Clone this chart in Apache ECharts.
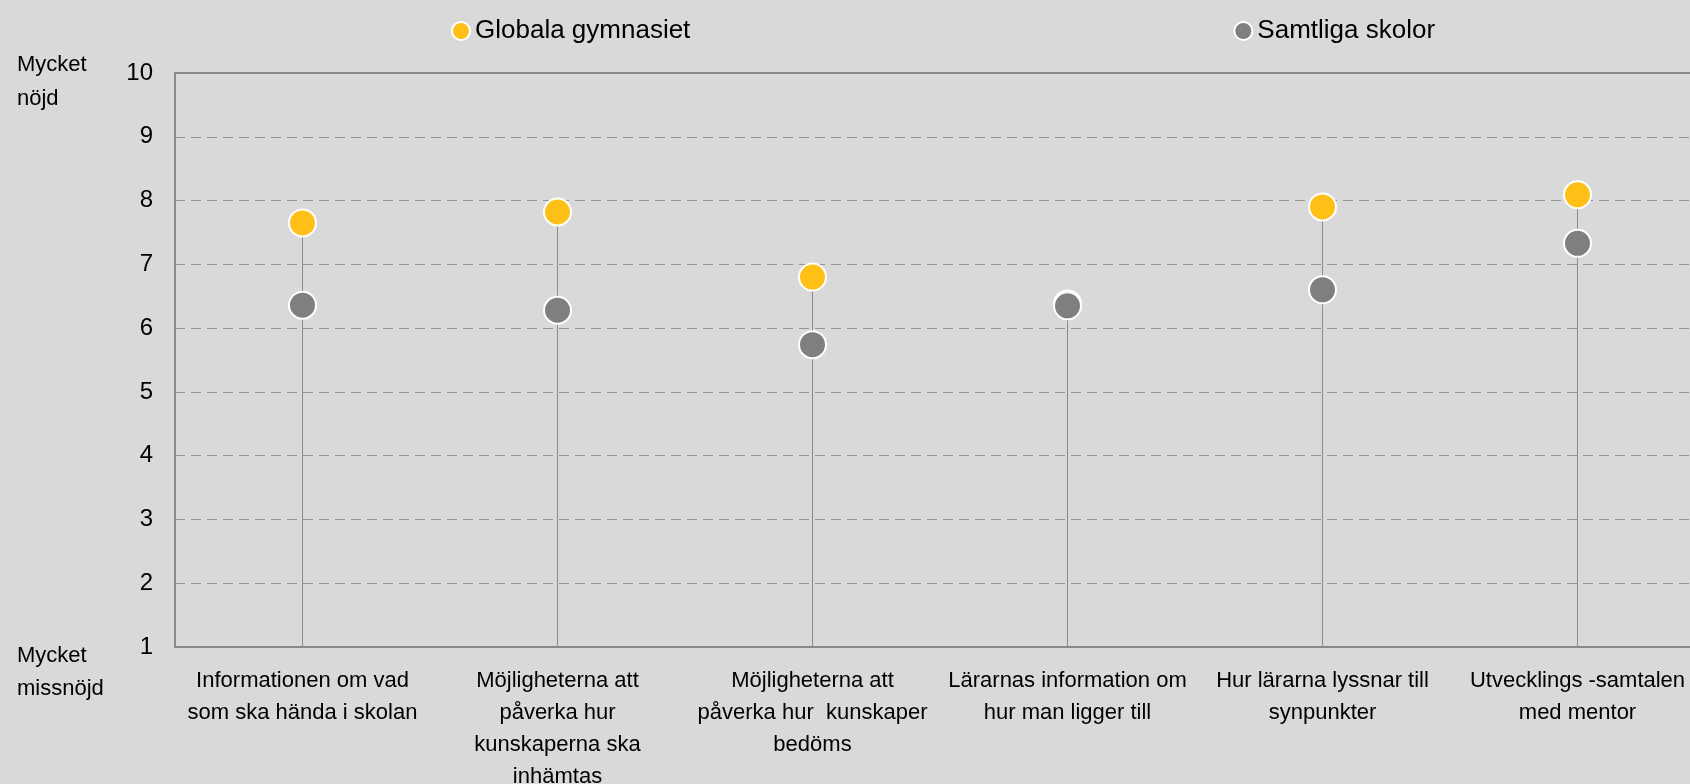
<!DOCTYPE html>
<html>
<head>
<meta charset="utf-8">
<style>
html,body{margin:0;padding:0;background:#D9D9D9;}
#c{width:1690px;height:784px;}
</style>
<script src="https://cdn.jsdelivr.net/npm/echarts@6/dist/echarts.min.js"></script>
</head>
<body>
<div id="c"></div>
<script>
var categories = [
  'Informationen om vad\nsom ska hända i skolan',
  'Möjligheterna att\npåverka hur\nkunskaperna ska\ninhämtas',
  'Möjligheterna att\npåverka hur  kunskaper\nbedöms',
  'Lärarnas information om\nhur man ligger till',
  'Hur lärarna lyssnar till\nsynpunkter',
  'Utvecklings -samtalen\nmed mentor'
];
var globala = [7.65, 7.82, 6.80, 6.38, 7.90, 8.09];
var samtliga = [6.36, 6.28, 5.74, 6.35, 6.60, 7.33];
var yTicks = [1, 2, 3, 4, 5, 6, 7, 8, 9, 10];
var seriesNames = ['Globala gymnasiet', 'Samtliga skolor'];

var stems = globala.map(function (g, i) { return Math.max(g, samtliga[i]); });

var FONT = '"Liberation Sans", Arial, sans-serif';
var chart = echarts.init(document.getElementById('c'));
chart.setOption({
  backgroundColor: '#D9D9D9',
  animation: false,
  textStyle: { fontFamily: FONT, color: '#000' },
  legend: {
    data: seriesNames,
    left: 446,
    top: 13,
    icon: 'circle',
    itemWidth: 18,
    itemHeight: 18,
    itemGap: 543,
    textStyle: { fontSize: 26, color: '#000', fontFamily: FONT },
    selectedMode: false
  },
  grid: { left: 175, right: -15, top: 73, bottom: 137, outerBoundsMode: 'none', containLabel: false },
  xAxis: [{
    type: 'category',
    data: categories,
    axisLine: { show: true, lineStyle: { color: '#8A8A8A', width: 2 } },
    axisTick: { show: false },
    axisLabel: { fontSize: 22, lineHeight: 32, margin: 18, color: '#000', fontFamily: FONT, interval: 0 }
  }, {
    type: 'category',
    position: 'top',
    data: categories,
    axisLine: { show: true, lineStyle: { color: '#8A8A8A', width: 2 } },
    axisTick: { show: false },
    axisLabel: { show: false }
  }],
  yAxis: {
    type: 'value',
    min: yTicks[0],
    max: yTicks[yTicks.length - 1],
    interval: 1,
    axisLine: { show: true, lineStyle: { color: '#8A8A8A', width: 2 } },
    axisTick: { show: false },
    axisLabel: { fontSize: 24, margin: 22, color: '#000', fontFamily: FONT },
    splitLine: { show: true, lineStyle: { color: '#959595', type: [10, 6], width: 1 } }
  },
  graphic: [
    { type: 'text', left: 17, top: 48, style: { text: 'Mycket\nnöjd', fontSize: 22, lineHeight: 34, fill: '#000', font: '22px ' + FONT } },
    { type: 'text', left: 17, top: 639, style: { text: 'Mycket\nmissnöjd', fontSize: 22, lineHeight: 33, fill: '#000', font: '22px ' + FONT } }
  ],
  series: [
    {
      name: 'stem',
      type: 'bar',
      data: stems,
      barWidth: 1,
      itemStyle: { color: '#8A8A8A' },
      silent: true,
      z: 1
    },
    {
      name: seriesNames[0],
      type: 'scatter',
      data: globala,
      symbol: 'circle',
      symbolSize: 27,
      itemStyle: { color: '#FEC016', borderColor: '#FFFFFF', borderWidth: 2, opacity: 1 },
      z: 3
    },
    {
      name: seriesNames[1],
      type: 'scatter',
      data: samtliga,
      symbol: 'circle',
      symbolSize: 27,
      itemStyle: { color: '#7F7F7F', borderColor: '#FFFFFF', borderWidth: 2, opacity: 1 },
      z: 4
    }
  ]
});
</script>
</body>
</html>
